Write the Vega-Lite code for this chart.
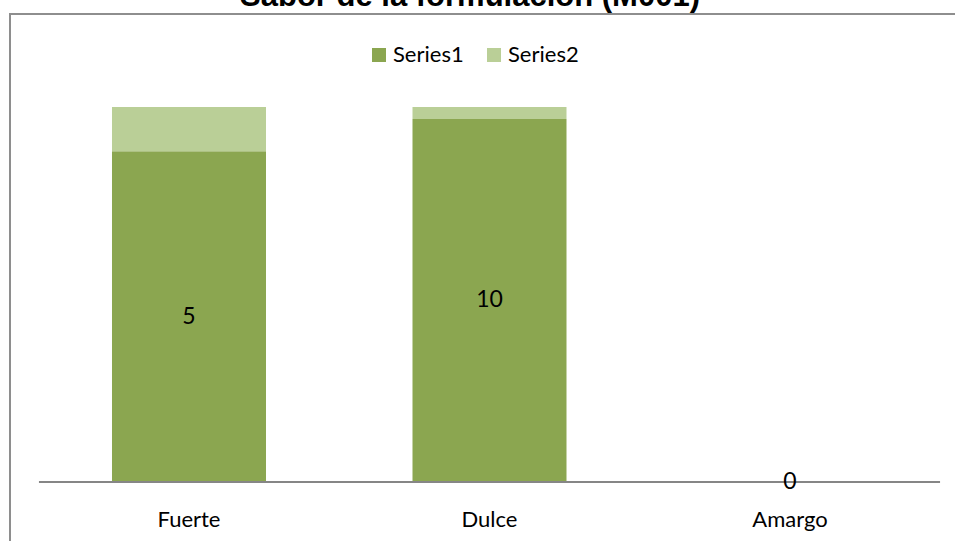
{
  "$schema": "https://vega.github.io/schema/vega-lite/v6.json",
  "autosize": {"type": "none"},
  "padding": {"left": 10, "top": 14, "right": 0, "bottom": 0},
  "width": 959,
  "height": 540,
  "background": "white",
  "title": {
    "text": "Sabor  de la formulación (M001)",
    "font": "Liberation Sans",
    "fontWeight": "bold",
    "fontSize": 31,
    "color": "black",
    "anchor": "middle",
    "frame": "group",
    "baseline": "alphabetic",
    "offset": -23,
    "dx": -19.5
  },
  "config": {
    "view": {"stroke": "#8E8E8E", "strokeWidth": 2},
    "font": "Lato"
  },
  "data": {
    "values": [
      {"cat": "Fuerte", "series": "Series1", "value": 5},
      {"cat": "Fuerte", "series": "Series2", "value": 0.67},
      {"cat": "Dulce", "series": "Series1", "value": 10},
      {"cat": "Dulce", "series": "Series2", "value": 0.33},
      {"cat": "Amargo", "series": "Series1", "value": 0},
      {"cat": "Amargo", "series": "Series2", "value": 0}
    ]
  },
  "layer": [
    {
      "mark": {"type": "bar"},
      "encoding": {
        "x": {
          "field": "cat",
          "type": "nominal",
          "scale": {"domain": ["Fuerte", "Dulce", "Amargo"], "paddingInner": 0.4875, "paddingOuter": 0.3394},
          "axis": {
            "title": null,
            "orient": "bottom",
            "offset": -72,
            "domain": false,
            "ticks": false,
            "tickSize": 0,
            "grid": false,
            "labelAngle": 0,
            "labelBaseline": "alphabetic",
            "labelPadding": 44,
            "labelFont": "Lato",
            "labelFontSize": 22,
            "labelColor": "black"
          }
        },
        "y": {
          "field": "value",
          "type": "quantitative",
          "stack": "normalize",
          "scale": {"domain": [-0.192, 1.248], "nice": false, "zero": false},
          "axis": null
        },
        "order": {"field": "series", "sort": "ascending"},
        "color": {
          "field": "series",
          "type": "nominal",
          "scale": {"domain": ["Series1", "Series2"], "range": ["#8BA650", "#BACF97"]},
          "legend": {
            "title": null,
            "orient": "none",
            "direction": "horizontal",
            "legendX": 358,
            "legendY": 30,
            "padding": 0,
            "symbolType": "square",
            "symbolSize": 196,
            "symbolStrokeWidth": 0,
            "symbolOpacity": 1,
            "labelFont": "Lato",
            "labelFontSize": 22,
            "labelColor": "black",
            "labelOffset": 3,
            "columnPadding": 19
          }
        }
      }
    },
    {
      "mark": {"type": "rule", "color": "#868686", "strokeWidth": 2},
      "encoding": {
        "x": {"datum": "Fuerte", "type": "nominal", "bandPosition": -0.474},
        "x2": {"datum": "Amargo", "bandPosition": 1.474},
        "y": {"datum": 0, "type": "quantitative"}
      }
    },
    {
      "transform": [{"filter": "datum.cat !== 'Amargo'"}],
      "mark": {"type": "text", "font": "Lato", "fontSize": 23, "color": "black", "baseline": "middle"},
      "encoding": {
        "x": {"field": "cat", "type": "nominal"},
        "y": {"field": "value", "type": "quantitative", "stack": "normalize", "bandPosition": 0.5},
        "detail": {"field": "series", "type": "nominal"},
        "order": {"field": "series", "sort": "ascending"},
        "text": {
          "condition": {"test": "datum.series === 'Series1'", "field": "value", "type": "quantitative"},
          "value": ""
        }
      }
    },
    {
      "transform": [{"filter": "datum.cat === 'Amargo' && datum.series === 'Series1'"}],
      "mark": {"type": "text", "font": "Lato", "fontSize": 23, "color": "black", "baseline": "middle"},
      "encoding": {
        "x": {"field": "cat", "type": "nominal"},
        "y": {"datum": 0, "type": "quantitative"},
        "text": {"field": "value", "type": "quantitative"}
      }
    }
  ]
}
